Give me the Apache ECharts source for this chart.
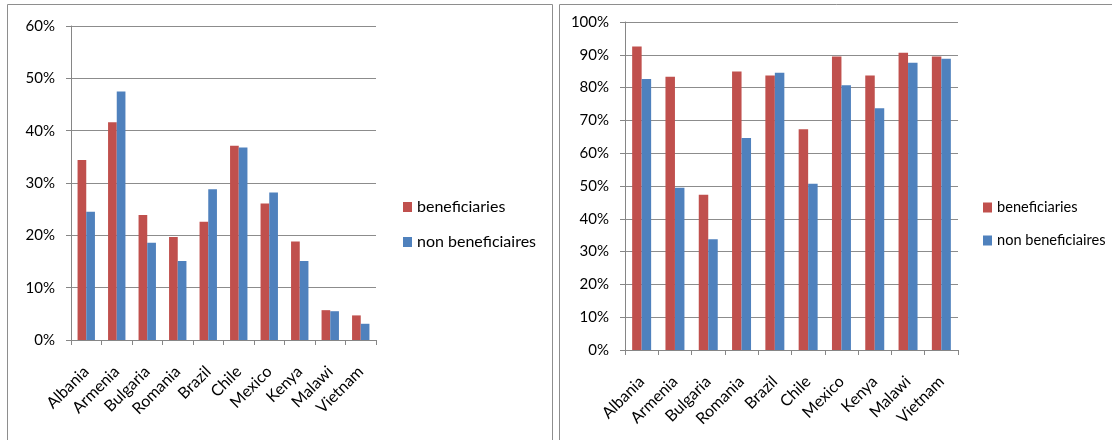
<!DOCTYPE html>
<html>
<head>
<meta charset="utf-8">
<script src="https://cdn.jsdelivr.net/npm/echarts@6/dist/echarts.min.js"></script>
<style>html,body{margin:0;padding:0;background:#fff}#c{width:1112px;height:440px}</style>
</head>
<body>
<div id="c"></div>
<script>
const countries = ['Albania','Armenia','Bulgaria','Romania','Brazil','Chile','Mexico','Kenya','Malawi','Vietnam'];
const seriesNames = ['beneficiaries','non beneficiaires'];
const leftBenef = [34.4, 41.6, 23.9, 19.7, 22.6, 37.1, 26.1, 18.8, 5.7, 4.7];
const leftNonBenef = [24.5, 47.5, 18.6, 15.1, 28.8, 36.8, 28.2, 15.1, 5.5, 3.1];
const rightBenef = [92.5, 83.3, 47.3, 84.9, 83.7, 67.3, 89.5, 83.7, 90.6, 89.5];
const rightNonBenef = [82.6, 49.5, 33.8, 64.6, 84.5, 50.7, 80.7, 73.7, 87.6, 88.8];
const leftTicks = {min: 0, max: 60, interval: 10};
const rightTicks = {min: 0, max: 100, interval: 10};

const FONT = 'Lato';
const RED = '#C0504D', BLUE = '#4F81BD';
const chart = echarts.init(document.getElementById('c'), null, {renderer: 'canvas'});

function xAxis(gi) {
  return {
    type: 'category', gridIndex: gi, data: countries,
    axisLine: {lineStyle: {color: '#868686', width: 1}},
    axisTick: {show: true, length: 5, lineStyle: {color: '#868686'}},
    axisLabel: {rotate: 45, margin: 29, color: '#000', fontFamily: FONT, fontSize: 16, interval: 0}
  };
}
function yAxis(gi, t) {
  return {
    type: 'value', gridIndex: gi, min: t.min, max: t.max, interval: t.interval,
    axisLine: {show: true, lineStyle: {color: '#868686', width: 1}},
    axisTick: {show: true, length: 5, lineStyle: {color: '#868686'}},
    splitLine: {show: true, lineStyle: {color: '#8c8c8c', width: 1}},
    axisLabel: {formatter: '{value}%', margin: 16, color: '#000', fontFamily: FONT, fontSize: 15}
  };
}
function bar(name, data, xi, color) {
  return {
    name: name, type: 'bar', xAxisIndex: xi, yAxisIndex: xi, data: data,
    barGap: '0%', barCategoryGap: '43%', itemStyle: {color: color}, animation: false
  };
}
function legend(left, top, gap, size) {
  return {
    orient: 'vertical', left: left, top: top, itemGap: gap, padding: 0,
    itemWidth: 9, itemHeight: 10, icon: 'rect',
    textStyle: {fontFamily: FONT, fontSize: size, color: '#000'},
    data: seriesNames
  };
}

chart.setOption({
  animation: false,
  grid: [
    {left: 71, top: 26, width: 305, height: 314},
    {left: 625, top: 22, width: 333, height: 328}
  ],
  xAxis: [xAxis(0), xAxis(1)],
  yAxis: [yAxis(0, leftTicks), yAxis(1, rightTicks)],
  legend: [legend(403, 199, 19, 16), legend(983, 200, 18, 14.6)],
  series: [
    bar(seriesNames[0], leftBenef, 0, RED),
    bar(seriesNames[1], leftNonBenef, 0, BLUE),
    bar(seriesNames[0], rightBenef, 1, RED),
    bar(seriesNames[1], rightNonBenef, 1, BLUE)
  ],
  graphic: [
    {type: 'rect', shape: {x: 7.5, y: 4.5, width: 545, height: 500}, style: {fill: 'none', stroke: '#8e8e8e', lineWidth: 1}, silent: true},
    {type: 'rect', shape: {x: 559.5, y: 4.5, width: 600, height: 500}, style: {fill: 'none', stroke: '#8e8e8e', lineWidth: 1}, silent: true}
  ]
});
</script>
</body>
</html>
